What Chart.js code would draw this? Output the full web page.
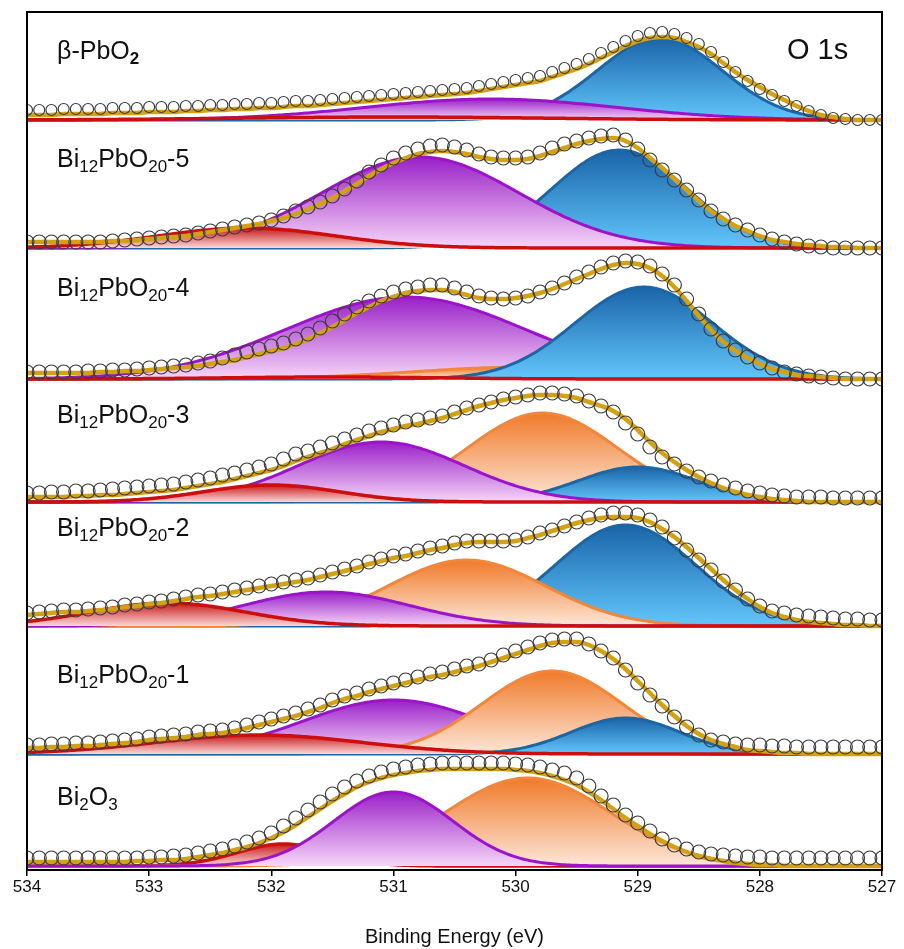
<!DOCTYPE html>
<html>
<head>
<meta charset="utf-8">
<title>O 1s XPS</title>
<script src="https://cdn.jsdelivr.net/npm/chart.js@4.4.0/dist/chart.umd.min.js"></script>
<style>
  html, body { margin: 0; padding: 0; background: #fff; }
  #wrap { position: relative; width: 904px; height: 949px; }
  .lbl {
    position: absolute;
    font-family: "Liberation Sans", Arial, sans-serif;
    font-size: 25px;
    line-height: 1;
    color: #111;
    white-space: nowrap;
  }
  .lbl sub { font-size: 17px; vertical-align: -5px; line-height: 0; }
</style>
</head>
<body>
<div id="wrap">
  <canvas id="xps" width="904" height="949"></canvas>
  <div class="lbl" style="left:57px; top:38px;">β-PbO<sub><b>2</b></sub></div>
  <div class="lbl" style="left:787px; top:35px; font-size:29px;">O 1s</div>
  <div class="lbl" style="left:57px; top:146px;">Bi<sub>12</sub>PbO<sub>20</sub>-5</div>
  <div class="lbl" style="left:57px; top:275px;">Bi<sub>12</sub>PbO<sub>20</sub>-4</div>
  <div class="lbl" style="left:57px; top:402px;">Bi<sub>12</sub>PbO<sub>20</sub>-3</div>
  <div class="lbl" style="left:57px; top:515px;">Bi<sub>12</sub>PbO<sub>20</sub>-2</div>
  <div class="lbl" style="left:57px; top:662px;">Bi<sub>12</sub>PbO<sub>20</sub>-1</div>
  <div class="lbl" style="left:57px; top:784px;">Bi<sub>2</sub>O<sub>3</sub></div>
</div>
<script>
// Samples, top to bottom
const samples = ["β-PbO2", "Bi12PbO20-5", "Bi12PbO20-4", "Bi12PbO20-3", "Bi12PbO20-2", "Bi12PbO20-1", "Bi2O3"];
// vertical offset of each spectrum
const offsets = [750, 622, 491, 368, 244, 116, 4];

// fitted components per sample: [centre eV, FWHM eV, height]
const peakBlue = [[528.82, 1.2, 82], [529.15, 1.3, 98], [528.95, 1.33, 92], [529.0, 1.15, 35], [529.1, 1.35, 101], [529.1, 1.05, 36], null];
const peakOrange = [null, null, [529.9, 2.2, 12], [529.78, 1.45, 89], [530.4, 1.52, 66], [529.7, 1.35, 83], [529.9, 1.6, 88]];
const peakPurple = [[530.2, 2.4, 21], [530.78, 1.9, 91], [530.9, 2.3, 82], [531.1, 1.6, 60], [531.55, 1.6, 34], [531.0, 1.75, 54], [531.0, 1.15, 74]];
const peakRed = [[531.0, 3.0, 3], [532.2, 1.7, 20], [531.5, 2.0, 2], [532.0, 1.3, 17], [532.85, 1.5, 23], [532.1, 2.0, 19], [531.9, 0.9, 22]];

// drawing order of the components in each panel (bottom first)
const layerOrder = [
  ["blue", "purple", "red"],
  ["blue", "purple", "red"],
  ["purple", "orange", "blue", "red"],
  ["orange", "blue", "purple", "red"],
  ["blue", "orange", "purple", "red"],
  ["purple", "orange", "blue", "red"],
  ["red", "orange", "purple"]
];

// 534.0 -> 527.0 eV in 0.1 eV steps
const energies = Array.from({ length: 71 }, (_, i) => Math.round((534 - i * 0.1) * 10) / 10);

// measured intensities
const countsPbO2 = [10,10,10,11,11,11,11,12,12,12,13, 13,13,14,14,15,15,16,16,17,17, 18,19,19,20,21,22,23,24,25,26, 27,28,29,30,31,32,34,36,38,40, 42,44,48,52,56,61,67,73,79,84, 87,88,86,82,76,68,58,48,39,31, 25,19,14,9,5,2,1,0,0,0];
const countsBi5 = [6,6,6,6,6,6,6,7,8,9,10, 11,12,13,15,17,19,21,23,25,28, 32,37,41,46,52,59,67,76,83,90, 95,99,102,103,101,98,94,91,90,90, 91,95,100,104,107,110,112,113,108,99, 88,78,68,58,48,37,29,23,18,13, 9,6,4,2,1,0,0,0,0,0];
const countsBi4 = [7,7,7,7,7,8,8,9,9,10,11, 12,13,14,16,18,21,24,27,30,33, 36,40,45,51,58,65,72,78,83,87, 90,92,94,94,91,87,83,81,80,81, 83,87,91,96,102,107,112,116,118,117, 113,105,94,80,65,50,38,29,22,16, 11,7,5,3,2,1,0,0,0,0];
const countsBi3 = [9,9,10,10,11,11,12,13,14,15,16, 17,18,20,22,24,27,29,32,35,38, 43,48,51,55,59,63,67,71,74,77, 80,82,84,86,90,94,97,100,103,105, 107,109,109,108,106,101,96,90,79,68, 55,45,38,31,25,21,17,14,11,9, 7,6,5,5,5,4,4,4,4,4];
const countsBi2 = [13,14,15,16,16,17,18,19,21,22,24, 25,27,29,31,32,34,36,38,40,42, 44,46,48,51,54,57,60,64,67,70, 72,75,78,80,83,85,85,85,85,86, 89,93,96,100,104,108,111,113,113,111, 106,99,88,76,66,56,45,36,27,20, 15,13,11,10,9,8,7,7,6,6];
const countsBi1 = [9,9,10,10,11,11,12,13,14,15,17, 18,19,20,22,23,24,26,29,32,35, 38,41,45,49,54,58,61,65,68,71, 74,77,80,82,85,88,90,94,99,103, 107,111,114,115,115,110,103,96,84,71, 59,48,37,27,19,14,12,10,9,9, 8,8,7,7,7,7,7,7,7,7];
const countsBi2O3 = [8,8,8,8,8,8,8,8,8,8,9, 9,10,11,13,15,17,20,24,28,33, 40,48,56,64,72,79,85,90,94,97, 99,101,102,103,103,103,103,103,103,102, 101,99,96,93,88,80,70,61,51,43, 35,27,21,17,14,12,11,10,9,9, 8,8,8,8,8,8,8,8,8,8];

// fitted envelope (cumulative fit) on the same grid
const fitPbO2 = [5,5,5,6,6,6,6,7,7,7,8, 8,8,9,9,10,10,11,11,12,12, 13,14,14,15,16,17,18,19,20,21, 22,23,24,25,26,27,29,31,33,35, 37,39,43,47,51,56,62,68,74,79, 82,83,82,78,73,66,57,48,40,33, 26,20,14,9,5,3,1,0,0,0];
const fitBi5 = [6,6,6,6,6,6,6,7,7,8,9, 10,11,12,14,16,18,20,22,24,27, 30,34,39,44,50,57,64,72,79,85, 90,94,96,97,96,94,91,89,88,88, 89,92,96,100,104,107,109,110,107,100, 90,80,69,58,47,37,29,22,17,12, 8,6,4,3,2,1,1,0,0,0];
const fitBi4 = [6,6,6,6,6,6,7,7,8,8,9, 10,11,12,13,15,17,19,22,25,28, 31,35,40,46,52,59,66,72,78,82, 86,88,89,89,87,84,81,80,80,81, 83,86,90,95,100,105,110,114,116,115, 111,103,92,78,63,49,37,28,21,15, 10,7,4,3,2,1,0,0,0,0];
const fitBi3 = [5,5,5,5,6,6,7,7,8,9,10, 11,12,14,16,18,20,23,26,29,32, 36,41,45,49,53,58,62,66,70,73, 76,78,81,84,88,92,96,99,102,104, 106,107,107,106,104,100,96,91,83,72, 60,49,40,32,25,19,14,10,7,5, 3,2,1,0,0,0,0,0,0,0];
const fitBi2 = [11,12,13,14,14,15,16,17,19,20,22, 23,25,27,29,30,32,34,36,38,40, 42,44,46,49,52,55,58,62,65,68, 70,73,76,78,81,83,84,84,84,85, 88,91,95,99,103,106,108,109,109,108, 104,97,89,79,68,57,46,36,27,19, 13,9,6,4,3,2,1,1,0,0];
const fitBi1 = [6,6,7,7,8,8,9,10,11,12,14, 15,16,17,19,20,21,23,26,29,32, 35,38,42,46,51,55,58,62,65,68, 71,74,77,79,82,85,88,92,96,100, 104,108,111,112,112,109,103,95,85,73, 61,49,38,28,20,14,10,7,4,3, 2,1,1,0,0,0,0,0,0,0];
const fitBi2O3 = [4,4,4,4,4,4,4,4,4,5,5, 6,6,7,9,11,13,16,19,23,28, 34,41,49,57,65,72,79,84,88,91, 93,95,96,97,97,97,97,97,97,96, 95,93,90,86,81,74,66,57,48,40, 32,25,19,14,10,7,5,3,2,1, 1,0,0,0,0,0,0,0,0,0];

const measured = [countsPbO2, countsBi5, countsBi4, countsBi3, countsBi2, countsBi1, countsBi2O3];
const envelopes = [fitPbO2, fitBi5, fitBi4, fitBi3, fitBi2, fitBi1, fitBi2O3];

const palette = {
  blue:   { line: "#1b67a6", top: "#1a64a8", bottom: "#62c6fb" },
  orange: { line: "#f2873b", top: "#f07a2a", bottom: "#fde7d8" },
  purple: { line: "#9c14c8", top: "#9a20c8", bottom: "#f6d6f8" },
  red:    { line: "#cc0e0e", top: "#c81a1a", bottom: "#fbd8d8" }
};
const peaks = { blue: peakBlue, orange: peakOrange, purple: peakPurple, red: peakRed };

const fine = Array.from({ length: 351 }, (_, i) => 534 - i * 0.02);

function gauss(e, p) {
  const s = p[1] / 2.3548;
  return p[2] * Math.exp(-((e - p[0]) ** 2) / (2 * s * s));
}

function fillGradient(c, top, base) {
  return (ctx) => {
    const chart = ctx.chart;
    if (!chart.chartArea) return c.bottom;
    const y = chart.scales.y;
    const g = chart.ctx.createLinearGradient(0, y.getPixelForValue(top), 0, y.getPixelForValue(base));
    g.addColorStop(0, c.top);
    g.addColorStop(1, c.bottom);
    return g;
  };
}

const datasets = [];
samples.forEach((name, s) => {
  const base = offsets[s];
  layerOrder[s].forEach((key) => {
    const p = peaks[key][s];
    if (!p) return;
    const c = palette[key];
    datasets.push({
      label: name + " " + key,
      data: fine.map((e) => ({ x: e, y: base + gauss(e, p) })),
      borderColor: c.line,
      borderWidth: key === "red" ? 3.5 : 3,
      backgroundColor: fillGradient(c, base + p[2], base),
      fill: { value: base },
      pointRadius: 0
    });
  });
  datasets.push({
    label: name + " fit",
    data: energies.map((e, i) => ({ x: e, y: base + envelopes[s][i] })),
    borderColor: "#d4a112",
    borderWidth: 4.5,
    cubicInterpolationMode: "monotone",
    fill: false,
    pointRadius: 0
  });
  datasets.push({
    label: name + " data",
    data: energies.map((e, i) => ({ x: e, y: base + measured[s][i] })),
    showLine: false,
    pointRadius: s === 0 ? 5.5 : 7,
    pointBorderWidth: 1.2,
    pointBorderColor: "#3c3c3c",
    pointBackgroundColor: "rgba(255,255,255,0)"
  });
});
datasets.forEach((d, i) => { d.order = 1000 - i; });

const frame = {
  id: "frame",
  afterDatasetsDraw(chart) {
    const { ctx, chartArea: a } = chart;
    ctx.save();
    ctx.strokeStyle = "#000";
    ctx.lineWidth = 2;
    ctx.strokeRect(a.left, a.top, a.right - a.left, a.bottom - a.top);
    ctx.restore();
  }
};

new Chart(document.getElementById("xps"), {
  type: "line",
  data: { datasets },
  options: {
    responsive: false,
    animation: false,
    devicePixelRatio: 1,
    parsing: false,
    layout: { padding: { left: 27, right: 22, top: 12, bottom: 0 } },
    plugins: { legend: { display: false }, tooltip: { enabled: false } },
    elements: { line: { tension: 0 } },
    scales: {
      x: {
        type: "linear",
        min: 527,
        max: 534,
        reverse: true,
        afterFit: (scale) => { scale.height = 79; },
        ticks: {
          stepSize: 1,
          color: "#111",
          padding: 1,
          font: { family: "Liberation Sans", size: 17 }
        },
        grid: { drawOnChartArea: false, drawTicks: true, tickLength: 6, color: "#000", lineWidth: 1.5 },
        border: { display: true, color: "#000", width: 2 },
        title: {
          display: true,
          text: "Binding Energy (eV)",
          color: "#111",
          font: { family: "Liberation Sans", size: 20 },
          padding: { top: 2, bottom: 0 }
        }
      },
      y: { display: false, min: 0, max: 858 }
    }
  },
  plugins: [frame]
});
</script>
</body>
</html>
